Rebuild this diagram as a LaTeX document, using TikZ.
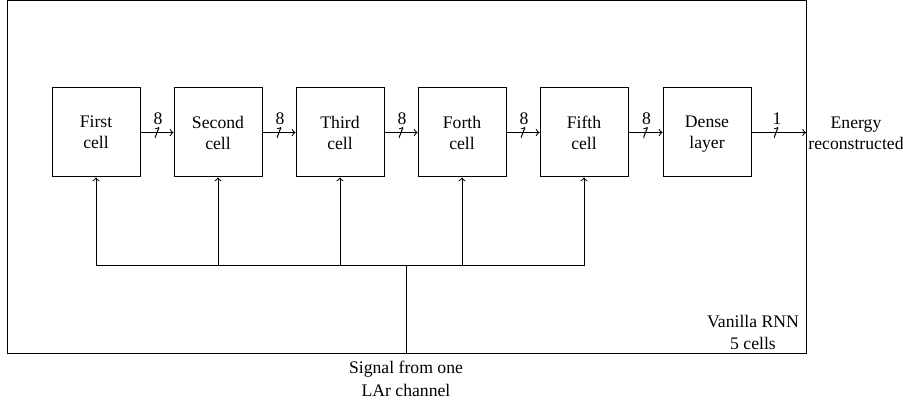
\documentclass[tikz,border=0pt]{standalone}
\usepackage{fontspec}
\setmainfont{Liberation Serif}
\begin{document}
\begin{tikzpicture}[x=0.6pt,y=-0.6pt,line width=0.6pt,
  font=\fontsize{10.6}{12.7}\selectfont,
  cellbox/.style={draw, minimum width=52.8pt, minimum height=53.4pt,
    align=center, inner sep=0pt, text depth=0pt},
  busmark/.style={inner sep=0pt, minimum width=2.6pt, minimum height=6.8pt,
    path picture={\draw[line width=0.6pt] (path picture bounding box.south west)
      -- (path picture bounding box.north east);}},
  buslabel/.style={above=3.4pt, inner sep=1pt, xshift=0.6pt},
  txt/.style={align=center, inner sep=0pt}]
\useasboundingbox (0,0) rectangle (903,405);

% enclosing frame of the network
\draw (7,0.5) rectangle (806,354);

% recurrent cells and output layer
\node[cellbox] (c1) at (96,132.5)  {First\\cell};
\node[cellbox] (c2) at (218,132.5) {Second\\cell};
\node[cellbox] (c3) at (340,132.5) {Third\\cell};
\node[cellbox] (c4) at (462,132.5) {Forth\\cell};
\node[cellbox] (c5) at (584,132.5) {Fifth\\cell};
\node[cellbox] (d)  at (707,132.5) {Dense\\layer};

% outputs
\coordinate (out) at (806,132.5);
\node[txt] (energy) at (856,133) {Energy\\reconstructed};

% chained connections with bus widths
\draw[->] (c1) -- node[busmark] {} node[buslabel] {8} (c2);
\draw[->] (c2) -- node[busmark] {} node[buslabel] {8} (c3);
\draw[->] (c3) -- node[busmark] {} node[buslabel] {8} (c4);
\draw[->] (c4) -- node[busmark] {} node[buslabel] {8} (c5);
\draw[->] (c5) -- node[busmark] {} node[buslabel] {8} (d);
\draw[->] (d) -- node[busmark, pos=0.45] {} node[buslabel, pos=0.45] {1} (out);

% input signal distributed to every cell
\coordinate (bus) at (406,266);
\coordinate (sig) at (406,354);
\draw (sig) -- (bus);
\foreach \c in {c1,c2,c3,c4,c5}
  \draw[->] (bus) -| (\c.south);

% captions
\node[txt] (signal) at (406,378.5) {Signal from one\\[1.2pt]LAr channel};
\node[txt] (rnn) at (753,332.5) {Vanilla RNN\\5 cells};
\end{tikzpicture}
\end{document}
